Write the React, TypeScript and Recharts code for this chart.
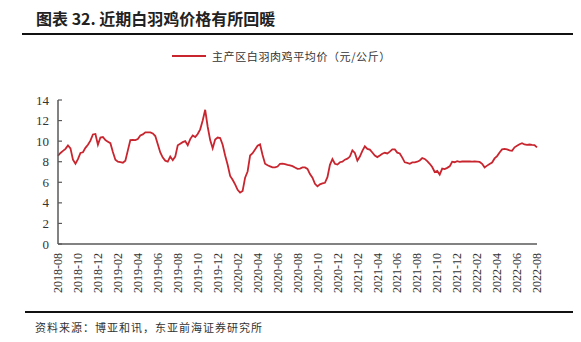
import React from "react";
import { LineChart, Line, XAxis, YAxis, Legend } from "recharts";

// 主产区白羽肉鸡平均价，约每周一个点（2018-08 起，每月 4 个点）
const prices = [
  8.58, 8.85, 9.05, 9.25, 9.58, 9.3, 8.2, 7.8, 8.25, 8.85, 8.92, 9.35, 9.65, 10.05, 10.65, 10.7,
  9.65, 10.35, 10.4, 10.1, 9.95, 9.8, 8.95, 8.2, 8.0, 7.95, 7.9, 8.1, 9.1, 10.1, 10.12, 10.1,
  10.2, 10.55, 10.65, 10.85, 10.85, 10.85, 10.75, 10.5, 9.7, 8.9, 8.4, 8.1, 8.0, 8.5, 8.15, 8.5,
  9.6, 9.75, 9.9, 10.0, 9.6, 10.2, 10.55, 10.4, 10.7, 11.15, 12.0, 13.05, 11.4, 10.1, 9.3, 10.15,
  10.35, 10.3, 9.65, 8.6, 7.7, 6.62, 6.25, 5.8, 5.27, 5.0, 5.15, 6.45, 7.05, 8.6, 8.82, 9.18,
  9.55, 9.68, 8.65, 7.8, 7.65, 7.55, 7.45, 7.45, 7.53, 7.8, 7.82, 7.77, 7.7, 7.65, 7.57, 7.43,
  7.3, 7.33, 7.45, 7.45, 7.3, 6.8, 6.45, 5.85, 5.6, 5.8, 5.9, 5.95, 6.5, 7.7, 8.25, 7.8,
  7.72, 7.95, 8.0, 8.2, 8.3, 8.5, 9.1, 8.85, 8.1, 8.5, 9.05, 9.5, 9.25, 9.18, 8.9, 8.6,
  8.45, 8.6, 8.78, 8.87, 8.8, 8.98, 9.2, 9.2, 8.88, 8.8, 8.4, 7.94, 7.88, 7.8, 7.93, 7.94,
  8.0, 8.12, 8.35, 8.27, 8.05, 7.8, 7.48, 7.0, 7.1, 6.75, 7.33, 7.29, 7.4, 7.55, 8.0, 7.95,
  8.05, 7.99, 8.02, 8.02, 8.02, 8.02, 8.0, 8.02, 8.0, 7.98, 7.8, 7.45, 7.62, 7.78, 7.92, 8.32,
  8.55, 8.9, 9.2, 9.25, 9.2, 9.1, 9.06, 9.4, 9.55, 9.7, 9.8, 9.68, 9.63, 9.67, 9.63, 9.62,
  9.39,
];

const monthLabels = [
  "2018-08", "2018-10", "2018-12", "2019-02", "2019-04", "2019-06", "2019-08",
  "2019-10", "2019-12", "2020-02", "2020-04", "2020-06", "2020-08", "2020-10",
  "2020-12", "2021-02", "2021-04", "2021-06", "2021-08", "2021-10", "2021-12",
  "2022-02", "2022-04", "2022-06", "2022-08",
];

const yTicks = [0, 2, 4, 6, 8, 10, 12, 14];
const seriesName = "主产区白羽肉鸡平均价（元/公斤）";

// 横轴用月份序号，每个点相隔 1/4 个月
const data = prices.map((v, i) => ({ m: i / 4, v }));
const xTicks = monthLabels.map((_, i) => i * 2);

const RED = "#C9252F";
const AXIS = "#595959";
const serif = "'Times New Roman', 'Liberation Serif', 'DejaVu Serif', serif";
const cjk = "'Noto Sans CJK SC', sans-serif";

function XTick({ x, y, payload }: any) {
  return (
    <g transform={`translate(${x},${y + 9})`}>
      <text transform="rotate(-90)" textAnchor="end" dy="0.35em" fontSize={12} fill="#333">
        {monthLabels[payload.value / 2]}
      </text>
    </g>
  );
}

// 刻度线朝内
function YTick({ x, y, payload }: any) {
  return (
    <g>
      <line x1={x + 9} x2={x + 13} y1={y} y2={y} stroke={AXIS} strokeWidth={1.2} />
      <text x={x} y={y} dy="0.35em" textAnchor="end" fontSize={13} fill="#333">
        {payload.value}
      </text>
    </g>
  );
}

function LegendBox() {
  return (
    <div style={{ display: "flex", alignItems: "center", marginLeft: 172 }}>
      <svg width={34} height={4} style={{ marginRight: 6 }}>
        <line x1={0} x2={34} y1={2} y2={2} stroke={RED} strokeWidth={2} />
      </svg>
      <span style={{ fontFamily: cjk, fontSize: 11, letterSpacing: 0.6, color: "#333" }}>
        {seriesName}
      </span>
    </div>
  );
}

export default function App() {
  return (
    <div
      style={{
        position: "absolute",
        left: 0,
        top: 0,
        width: 581,
        height: 342,
        background: "#fff",
        overflow: "hidden",
        fontFamily: serif,
      }}
    >
      <div
        style={{
          position: "absolute",
          left: 36,
          top: 6,
          fontFamily: cjk,
          fontWeight: 700,
          fontSize: 16,
          color: "#222",
          whiteSpace: "nowrap",
        }}
      >
        图表 32. 近期白羽鸡价格有所回暖
      </div>
      <div style={{ position: "absolute", left: 22, top: 33, width: 551, height: 2, background: "#111" }} />

      <div style={{ position: "absolute", left: 0, top: 0, fontFamily: serif }}>
        <LineChart
          width={581}
          height={342}
          data={data}
          margin={{ top: 84, right: 44, bottom: 38, left: 0 }}
          style={{ fontFamily: serif }}
        >
          <Legend
            verticalAlign="top"
            content={() => <LegendBox />}
            wrapperStyle={{ position: "absolute", top: 48, left: 0, width: 581 }}
          />
          <XAxis
            dataKey="m"
            type="number"
            domain={[0, 48]}
            ticks={xTicks}
            interval={0}
            height={60}
            tickLine={false}
            tickSize={0}
            tickMargin={0}
            tick={<XTick />}
            axisLine={{ stroke: AXIS, strokeWidth: 1.5 }}
          />
          <YAxis
            domain={[0, 14]}
            ticks={yTicks}
            interval={0}
            width={58}
            tickLine={false}
            tickSize={0}
            tickMargin={9}
            tick={<YTick />}
            axisLine={{ stroke: AXIS, strokeWidth: 1.5 }}
          />
          <Line
            type="linear"
            dataKey="v"
            stroke={RED}
            strokeWidth={1.8}
            dot={false}
            activeDot={false}
            isAnimationActive={false}
          />
        </LineChart>
      </div>

      <div style={{ position: "absolute", left: 25, top: 311, width: 548, height: 2, background: "#111" }} />
      <div
        style={{
          position: "absolute",
          left: 35,
          top: 319,
          fontFamily: cjk,
          fontSize: 11,
          letterSpacing: 1,
          color: "#333",
          whiteSpace: "nowrap",
        }}
      >
        资料来源：博亚和讯，东亚前海证券研究所
      </div>
    </div>
  );
}
